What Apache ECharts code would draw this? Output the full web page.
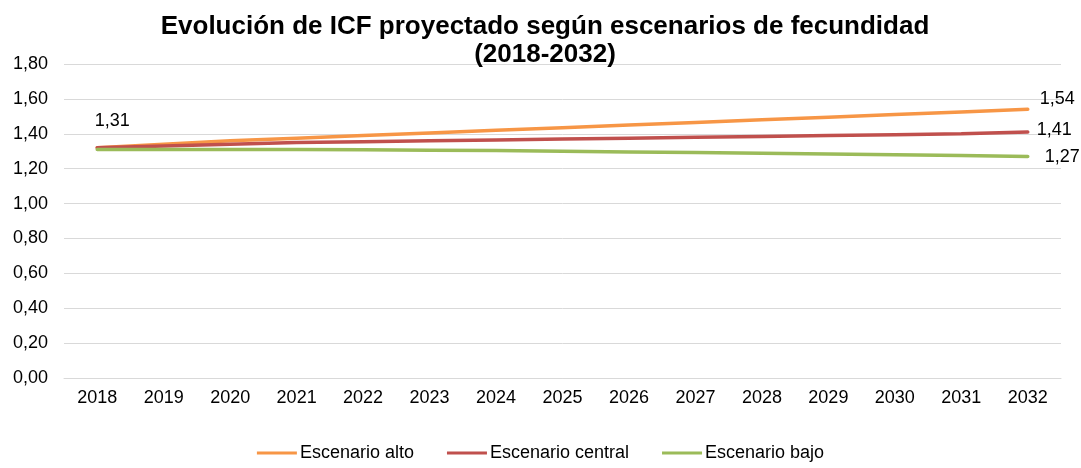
<!DOCTYPE html>
<html><head><meta charset="utf-8">
<script src="https://cdn.jsdelivr.net/npm/echarts@6/dist/echarts.min.js"></script>
<style>html,body{margin:0;padding:0;background:#fff}#c{width:1081px;height:468px}</style>
</head><body><div id="c"></div>
<script>
const years = ['2018','2019','2020','2021','2022','2023','2024','2025','2026','2027','2028','2029','2030','2031','2032'];
const alto = [1.32,1.34,1.36,1.375,1.39,1.405,1.42,1.435,1.45,1.465,1.48,1.495,1.51,1.525,1.54];
const central = [1.32,1.33,1.34,1.35,1.355,1.36,1.365,1.37,1.375,1.38,1.385,1.39,1.395,1.40,1.41];
const bajo = [1.31,1.31,1.31,1.31,1.308,1.306,1.304,1.30,1.296,1.292,1.288,1.284,1.28,1.275,1.27];
const seriesNames = ['Escenario alto','Escenario central','Escenario bajo'];
const colors = ['#F79646','#C0504D','#9BBB59'];
const fmt = v => v.toFixed(2).replace('.', ',');
const font = 'Liberation Sans, Arial, sans-serif';

function mk(name, data, color, endOffset, firstLabel) {
  return {
    name, type: 'line', data: data.map((v, i) => {
      const o = {value: v};
      if (i === data.length - 1) {
        o.label = {show: true, position: 'right', offset: endOffset, formatter: p => fmt(p.value), color: '#000', fontSize: 18, fontFamily: font};
      } else if (i === 0 && firstLabel) {
        o.label = {show: true, position: 'top', offset: [15, -14], formatter: p => fmt(p.value), color: '#000', fontSize: 18, fontFamily: font};
      }
      return o;
    }),
    showSymbol: true, showAllSymbol: true, symbol: 'circle', symbolSize: 0,
    lineStyle: {color, width: 3.5, cap: 'round'},
    itemStyle: {color},
    label: {show: false},
    emphasis: {disabled: true},
    z: 3
  };
}

const chart = echarts.init(document.getElementById('c'));
chart.setOption({
  animation: false,
  backgroundColor: '#fff',
  title: {
    text: 'Evolución de ICF proyectado según escenarios de fecundidad\n(2018-2032)',
    left: 540, top: 8, textAlign: 'center',
    textStyle: {fontSize: 26, fontWeight: 'bold', fontFamily: font, color: '#000', lineHeight: 28}
  },
  legend: {
    bottom: 1, left: 'center', itemGap: 33, itemWidth: 40, itemHeight: 3,
    icon: 'rect',
    textStyle: {fontSize: 18, fontFamily: font, color: '#000', padding: [0,0,0,-2]},
    data: seriesNames
  },
  grid: {left: 64, right: 20, top: 64, bottom: 90},
  xAxis: {
    type: 'category', data: years, boundaryGap: true,
    axisLine: {show: true, lineStyle: {color: '#D9D9D9', width: 1}},
    axisTick: {show: false},
    axisLabel: {fontSize: 18, fontFamily: font, color: '#000', margin: 11}
  },
  yAxis: {
    type: 'value', min: 0, max: 1.8, interval: 0.2,
    axisLine: {show: false}, axisTick: {show: false},
    splitLine: {lineStyle: {color: '#D9D9D9', width: 1}},
    axisLabel: {fontSize: 18, fontFamily: font, color: '#000', margin: 16, formatter: fmt}
  },
  series: [
    mk(seriesNames[0], alto, colors[0], [7, -10], false),
    mk(seriesNames[1], central, colors[1], [4, -2], false),
    mk(seriesNames[2], bajo, colors[2], [12, 1], true)
  ]
});
</script></body></html>
